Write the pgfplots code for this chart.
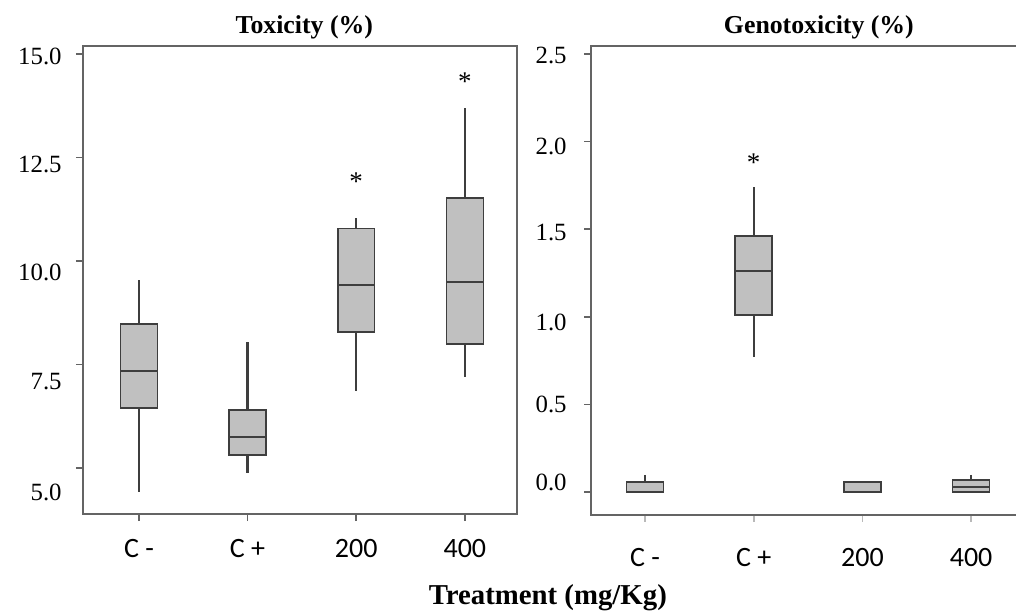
\documentclass[border=0pt]{standalone}
\usepackage{fontspec}
\setmainfont{Liberation Serif}
\newfontfamily\carlito{Carlito}
\usepackage{pgfplots}
\pgfplotsset{compat=1.18}
\usepgfplotslibrary{statistics}

\definecolor{boxfill}{RGB}{192,192,192}
\definecolor{boxedge}{RGB}{62,62,62}
\definecolor{axisgray}{RGB}{100,100,100}

\pgfplotsset{
  panel/.style={
    scale only axis, height=234pt, clip=false,
    axis line style={axisgray, line width=1pt},
    tick style={axisgray, line width=0.8pt},
    tick align=outside, major tick length=3.5pt, tick pos=left,
    xtick={0,1,2,3}, xticklabels={C -, C +, 200, 400},
    xticklabel style={font=\carlito\fontsize{14}{15}\selectfont, inner sep=0pt, anchor=center},
    yticklabels={},
    yticklabel style={font=\fontsize{12.4}{14}\selectfont, inner sep=0pt, anchor=east},
    extra y tick style={major tick length=0pt},
    title style={font=\bfseries\fontsize{12.9}{14}\selectfont, anchor=south, inner sep=0pt, yshift=-2.5pt},
    boxplot/draw direction=y,
    boxplot/box extend=0.34, boxplot/whisker extend=0,
    boxplot/every median/.style={line width=1.1pt},
    boxplot/every whisker/.style={line width=1.1pt},
  },
  bx/.style={draw=boxedge, fill=boxfill, line width=0.8pt},
  star/.style={only marks, mark=text, text mark={*}, text mark as node=true,
    text mark style={font=\fontsize{13.5}{14}\selectfont, inner sep=0pt, yshift=-1.7pt}},
}

\begin{document}
\begin{tikzpicture}
\path[use as bounding box] (0,0) rectangle (508pt,-306.5pt);

% toxicity
\begin{axis}[panel, at={(41.5pt,-257pt)}, anchor=south west, width=217pt,
  xmin=-0.515, xmax=3.48, ymin=3.89, ymax=15.19,
  ytick={5,7.5,10,12.5,15},
  extra y ticks={14.95,12.32,9.73,7.08,4.42},
  extra y tick labels={15.0,12.5,10.0,7.5,5.0},
  yticklabel style={xshift=-10.5pt},
  xticklabel style={yshift=-14pt},
  title={Toxicity (\%)}, title style={at={(axis description cs:0.51,1)}},
  xlabel={Treatment (mg/Kg)},
  xlabel style={at={(axis description cs:1.071,-0.179)}, anchor=center,
    font=\bfseries\fontsize{14.4}{16}\selectfont, inner sep=0pt},
]
\addplot[bx, boxplot prepared={draw position=0, lower whisker=4.43, lower quartile=6.45,
  median=7.34, upper quartile=8.48, upper whisker=9.53}] coordinates {};
\addplot[bx, boxplot prepared={draw position=1, lower whisker=4.87, lower quartile=5.32,
  median=5.74, upper quartile=6.40, upper whisker=8.05}] coordinates {};
\addplot[bx, boxplot prepared={draw position=2, lower whisker=6.85, lower quartile=8.28,
  median=9.42, upper quartile=10.78, upper whisker=11.04}] coordinates {};
\addplot[bx, boxplot prepared={draw position=3, lower whisker=7.20, lower quartile=8.00,
  median=9.50, upper quartile=11.52, upper whisker=13.69}] coordinates {};
\addplot[star] coordinates {(2,12.0) (3,14.4)};
\end{axis}

% genotoxicity
\begin{axis}[panel, at={(295.5pt,-257.5pt)}, anchor=south west, width=215pt, height=234.5pt,
  xmin=-0.497, xmax=3.459, ymin=-0.131, ymax=2.546,
  ytick={0,0.5,1,1.5,2,2.5},
  extra y ticks={2.494,1.97,1.483,0.97,0.50,0.057},
  extra y tick labels={2.5,2.0,1.5,1.0,0.5,0.0},
  yticklabel style={xshift=-12pt},
  xticklabel style={yshift=-18pt},
  xtick style={color=gray!55},
  title={Genotoxicity (\%)}, title style={at={(axis description cs:0.53,1)}},
]
\addplot[bx, boxplot prepared={draw position=0, lower whisker=0, lower quartile=0,
  median=0, upper quartile=0.057, upper whisker=0.10}] coordinates {};
\addplot[bx, boxplot prepared={draw position=1, lower whisker=0.77, lower quartile=1.01,
  median=1.26, upper quartile=1.46, upper whisker=1.74}] coordinates {};
\addplot[bx, boxplot prepared={draw position=2, lower whisker=0, lower quartile=0,
  median=0, upper quartile=0.057, upper whisker=0.057}] coordinates {};
\addplot[bx, boxplot prepared={draw position=3, lower whisker=0, lower quartile=0,
  median=0.03, upper quartile=0.069, upper whisker=0.10}] coordinates {};
\addplot[star] coordinates {(1,1.90)};
\end{axis}
\end{tikzpicture}
\end{document}
